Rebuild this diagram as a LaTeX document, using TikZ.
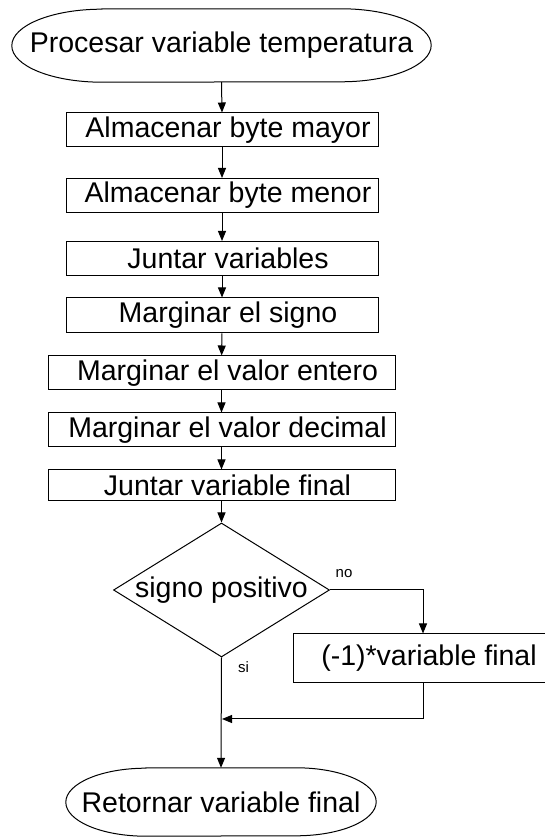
\documentclass[tikz,border=0pt]{standalone}
\usepackage{fontspec}
\setmainfont{Liberation Sans}
\usetikzlibrary{arrows.meta,shapes.geometric}
\begin{document}
\begin{tikzpicture}[x=1pt,y=1pt,
  ln/.style={line width=1pt,draw=black},
  big/.style={font=\fontsize{28.5}{30}\selectfont},
  box/.style={ln,big,rectangle,inner sep=0pt,minimum width=312pt,minimum height=34pt},
  wbox/.style={box,minimum width=347pt},
  term/.style={big,rectangle,inner sep=0pt},
  dec/.style={ln,diamond,inner sep=0pt,minimum width=216pt,minimum height=134pt},
  arr/.style={ln,-{Triangle[length=10pt,width=8pt]}},
  lab/.style={font=\fontsize{15}{16}\selectfont,inner sep=0pt}]
\useasboundingbox (0,0) rectangle (545,837);
\clip (0,0) rectangle (545,837);

% start terminator
\node[term,minimum width=419pt,minimum height=73pt] (start) at (221.5,791.5) {Procesar variable temperatura};
\draw[ln] ([xshift=90pt]start.north west) -- ([xshift=-90pt]start.north east)
  arc[start angle=90,end angle=-90,x radius=90pt,y radius=36.5pt]
  -- ([xshift=90pt]start.south west)
  arc[start angle=270,end angle=90,x radius=90pt,y radius=36.5pt] -- cycle;

\node[box] (b1) at (222,707) {\hspace*{12pt}Almacenar byte mayor};
\node[box] (b2) at (222,641.5) {\hspace*{12pt}Almacenar byte menor};
\node[box] (b3) at (222,578.5) {\hspace*{12pt}Juntar variables};
\node[box,minimum height=35pt] (b4) at (222,521.5) {\hspace*{12pt}Marginar el signo};
\node[wbox] (b5) at (221.5,464) {\hspace*{12pt}Marginar el valor entero};
\node[wbox] (b6) at (221.5,407) {\hspace*{12pt}Marginar el valor decimal};
\node[wbox,minimum height=31pt] (b7) at (221.5,351.5) {\hspace*{12pt}Juntar variable final};

\node[dec] (d) at (221.5,247) {};
\node[big,inner sep=0pt] (dt) at (d.center) {signo positivo};

\node[box,minimum width=260pt,minimum height=49pt] (neg) at (423,178.5) {\hspace*{12pt}(-1)*variable final};

% end terminator
\node[term,minimum width=310pt,minimum height=68pt] (end) at (221,35) {Retornar variable final};
\draw[ln] ([xshift=80pt]end.north west) -- ([xshift=-80pt]end.north east)
  arc[start angle=90,end angle=-90,x radius=80pt,y radius=34pt]
  -- ([xshift=80pt]end.south west)
  arc[start angle=270,end angle=90,x radius=80pt,y radius=34pt] -- cycle;

\coordinate (m) at (222,118);

\draw[arr] (start.south) -- (b1.north);
\draw[arr] (b1) -- (b2);
\draw[arr] (b2) -- (b3);
\draw[arr] (b3) -- (b4);
\draw[arr] (b4) -- (b5);
\draw[arr] (b5) -- (b6);
\draw[arr] (b6) -- (b7);
\draw[arr] (b7) -- (d);
\draw[arr] (d.east) -| (neg.north);
\draw[arr] (neg.south) |- (m);
\draw[arr] (d.south) -- (end.north);

\node[lab] (no) at (344,263) {no};
\node[lab] (si) at (243.5,170) {si};
\end{tikzpicture}
\end{document}
